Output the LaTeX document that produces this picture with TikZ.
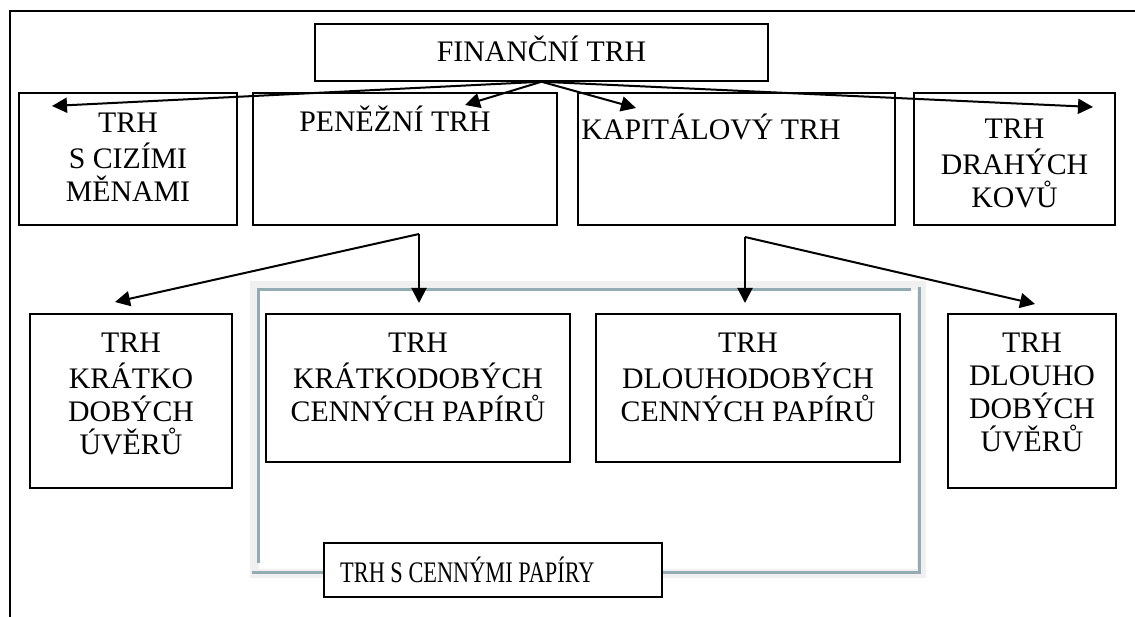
\documentclass[tikz,border=0pt]{standalone}
\usepackage{fontspec}
\usepackage{graphicx}
\setmainfont{Liberation Serif}
\usetikzlibrary{arrows.meta}
\definecolor{framegrey}{RGB}{240,240,240}
\definecolor{frameblue}{RGB}{147,172,180}
\begin{document}
\begin{tikzpicture}[x=1pt,y=-1pt,
  box/.style={draw, line width=1.5pt, inner sep=0pt, fill=white},
  lbl/.style={inner sep=0pt, align=center, font=\fontsize{29.8}{33}\selectfont},
  arr/.style={line width=2pt, -{Triangle[length=15pt,width=15pt]}}]
\useasboundingbox (0,0) rectangle (1135,617);

% page rule at top and left
\draw[line width=1.5pt] (1135,11) -- (10,11) -- (10,617);

% shaded frame around the securities markets
\draw[line width=9pt, framegrey] (254.5,286) rectangle (921.5,573.5);
\draw[line width=3pt, frameblue] (258,563) -- (258,290) -- (911,290);
\draw[line width=3pt, frameblue] (919.5,287) -- (919.5,573);
\draw[line width=3pt, frameblue] (252,572.5) -- (921,572.5);

% top level
\node[box, minimum width=453pt, minimum height=57pt] (fin) at (541.5,52.5) {};
\node[lbl, anchor=base] (fintext) at (541.5,62) {FINANČNÍ TRH};

% second row
\node[box, minimum width=218pt, minimum height=132pt] (forex) at (128,159) {};
\node[box, minimum width=304pt, minimum height=132pt] (money) at (405,159) {};
\node[box, minimum width=317pt, minimum height=132pt] (capital) at (736.5,159) {};
\node[box, minimum width=201pt, minimum height=132pt] (metals) at (1014.5,159) {};
\node[lbl, anchor=north] (forextext) at (128,108.9) {\strut TRH\\S CIZÍMI\\MĚNAMI};
\node[lbl, anchor=base] (moneytext) at (395,132) {PENĚŽNÍ TRH};
\node[lbl, anchor=base] (capitaltext) at (711,140) {KAPITÁLOVÝ TRH};
\node[lbl, anchor=north] (metalstext) at (1014.5,114.9) {\strut TRH\\DRAHÝCH\\KOVŮ};

% third row
\node[box, minimum width=202pt, minimum height=174pt] (shortloan) at (131,401) {};
\node[box, minimum width=304pt, minimum height=148pt] (shortsec) at (418,388) {};
\node[box, minimum width=304pt, minimum height=148pt] (longsec) at (748,388) {};
\node[box, minimum width=168pt, minimum height=174pt] (longloan) at (1032,401) {};
\node[lbl, anchor=north] (shortloantext) at (131,328.9) {\strut TRH\\KRÁTKO\\DOBÝCH\\ÚVĚRŮ};
\node[lbl, anchor=north] (shortsectext) at (418,328.9) {\strut TRH\\KRÁTKODOBÝCH\\CENNÝCH PAPÍRŮ};
\node[lbl, anchor=north] (longsectext) at (748,328.9) {\strut TRH\\DLOUHODOBÝCH\\CENNÝCH PAPÍRŮ};
\node[lbl, anchor=north] (longloantext) at (1032,328.9) {\strut TRH\\DLOUHO\\DOBÝCH\\ÚVĚRŮ};

% securities market label on the frame, set in condensed type
\node[box, minimum width=338pt, minimum height=54pt] (secmkt) at (493,570) {};
\node[lbl, anchor=base west] (secmkttext) at (340,582)
  {\scalebox{0.75}[1]{TRH S CENNÝMI PAPÍRY}};

% arrow ends and branch points
\coordinate (tforex) at (52,106);
\coordinate (tmoney) at (465,105);
\coordinate (tcapital) at (636,108);
\coordinate (tmetals) at (1093,107);
\coordinate (jmoney) at (419,234);
\coordinate (jcapital) at (745,237);
\coordinate (tshortloan) at (115,302);
\coordinate (tshortsec) at (419,303);
\coordinate (tlongsec) at (745,303);
\coordinate (tlongloan) at (1035,304);

% connectors
\draw[arr] (fin.south) -- (tforex);
\draw[arr] (fin.south) -- (tmoney);
\draw[arr] (fin.south) -- (tcapital);
\draw[arr] (fin.south) -- (tmetals);
\draw[arr] (jmoney) -- (tshortloan);
\draw[arr] (jmoney) -- (tshortsec);
\draw[arr] (jcapital) -- (tlongsec);
\draw[arr] (jcapital) -- (tlongloan);
\end{tikzpicture}
\end{document}
